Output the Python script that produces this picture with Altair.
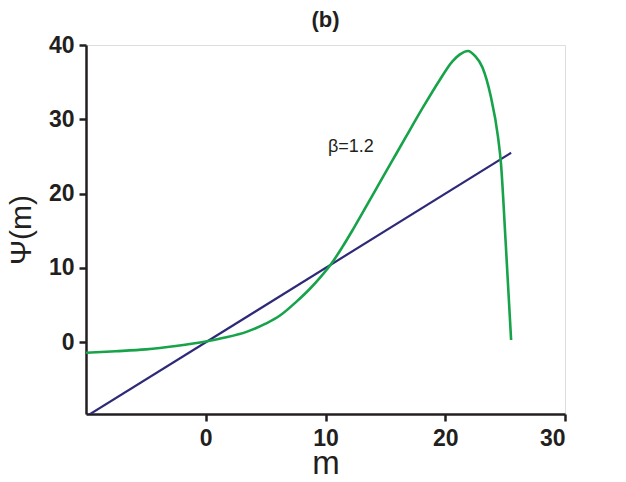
import altair as alt
import pandas as pd

# Green curve (beta = 1.2)
green_m = [-10, -7.5, -5, -2.5, 0, 1.5, 3.4, 5.0, 6.2, 7.6, 8.7, 9.6, 10.5, 11.4, 12.3, 13.9,
           15.6, 16.7, 18.1, 19.5, 20.6, 21.2, 21.9, 22.5, 23.1, 23.8, 24.4, 24.65, 25.05, 25.5]
green_psi = [-1.4, -1.2, -0.95, -0.5, 0.1, 0.6, 1.4, 2.5, 3.6, 5.5, 7.2, 8.8, 10.6, 12.8, 15.2, 19.7,
             24.5, 27.6, 31.5, 35.2, 37.8, 38.7, 39.2, 38.5, 37.0, 33.1, 27.7, 24.1, 13.3, 0.3]

# Blue straight line Psi = m
blue_m = [-10, 25.5]
blue_psi = [-10, 25.5]

label_text = ["β=1.2"]
label_m = [10.2]
label_psi = [25.6]

x_ticks = [0, 10, 20, 30]
y_ticks = [0, 10, 20, 30, 40]

green_df = pd.DataFrame({"m": green_m, "psi": green_psi})
blue_df = pd.DataFrame({"m": blue_m, "psi": blue_psi})
label_df = pd.DataFrame({"m": label_m, "psi": label_psi, "t": label_text})

AX = "#231f20"
xscale = alt.Scale(domain=[-10, 30], nice=False, zero=False)
yscale = alt.Scale(domain=[-9.65, 40], nice=False, zero=False)

xaxis = alt.Axis(values=x_ticks, title="m", grid=False, domainColor=AX, domainWidth=2.5,
                 tickColor=AX, tickWidth=2.5, tickSize=7, labelFont="Liberation Sans",
                 labelFontWeight="bold", labelFontSize=23, labelColor=AX, labelPadding=6,
                 titleFont="Liberation Sans", titleFontWeight="normal", titleFontSize=33,
                 titleColor=AX, titleBaseline="alphabetic", titleY=59)
yaxis = alt.Axis(values=y_ticks, title="Ψ(m)", grid=False, domainColor=AX, domainWidth=2.5,
                 tickColor=AX, tickWidth=2.5, tickSize=7, labelFont="Liberation Sans",
                 labelFontWeight="bold", labelFontSize=23, labelColor=AX, labelPadding=5,
                 titleFont="Liberation Sans", titleFontWeight="normal", titleFontSize=30,
                 titleColor=AX, titlePadding=12)

blue = alt.Chart(blue_df).mark_line(color="#2e2a78", strokeWidth=2.2, clip=True).encode(
    x=alt.X("m:Q", scale=xscale, axis=xaxis),
    y=alt.Y("psi:Q", scale=yscale, axis=yaxis),
)
green = alt.Chart(green_df).mark_line(color="#17a34a", strokeWidth=2.6, interpolate="monotone",
                                      clip=True).encode(
    x=alt.X("m:Q", scale=xscale),
    y=alt.Y("psi:Q", scale=yscale),
)
label = alt.Chart(label_df).mark_text(align="left", baseline="alphabetic", fontSize=18,
                                      font="Liberation Sans", color=AX).encode(
    x=alt.X("m:Q", scale=xscale),
    y=alt.Y("psi:Q", scale=yscale),
    text="t:N",
)

chart = (blue + green + label).properties(
    width=479, height=369,
    title=alt.TitleParams("(b)", font="Liberation Sans", fontSize=22, fontWeight="bold",
                          color=AX, anchor="middle", offset=2),
    autosize=alt.AutoSizeParams(type="none"),
    padding={"left": 78, "top": 37, "right": 45, "bottom": 60},
).configure_view(stroke=None).configure(background="white")

chart.save("out.html", embed_options={"renderer": "svg", "actions": False})
